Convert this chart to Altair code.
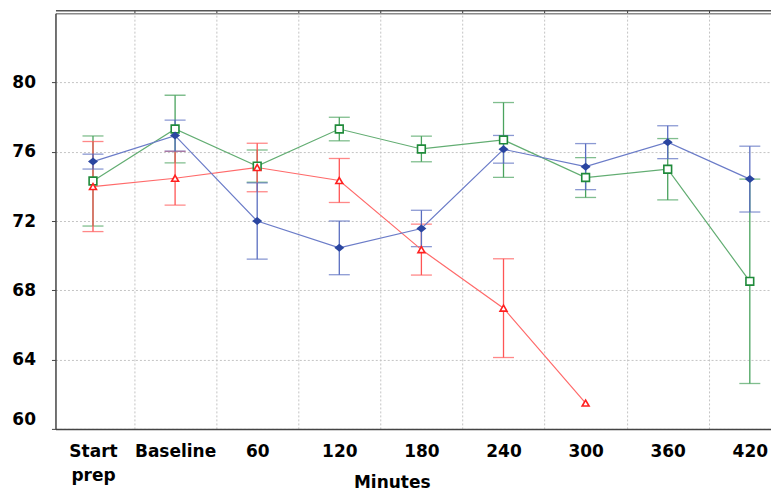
import altair as alt
import pandas as pd

categories = ["Start prep", "Baseline", "60", "120", "180", "240", "300", "360", "420"]

blue_mean = [75.43, 76.93, 72.00, 70.45, 71.57, 76.14, 75.14, 76.55, 74.42]
blue_err = [0.43, 0.90, 2.20, 1.55, 1.05, 0.80, 1.33, 0.95, 1.90]

green_mean = [74.31, 77.31, 75.17, 77.31, 76.16, 76.68, 74.51, 74.99, 68.52]
green_err = [2.60, 1.95, 0.93, 0.68, 0.74, 2.16, 1.15, 1.77, 5.90]

red_mean = [73.99, 74.47, 75.09, 74.34, 70.35, 66.97, 61.49, None, None]
red_err = [2.60, 1.55, 1.40, 1.27, 1.47, 2.85, None, None, None]

y_ticks = [60, 64, 68, 72, 76, 80]
y_domain = [60, 84]


def series_frame(means, errs):
    rows = []
    for i, (m, e) in enumerate(zip(means, errs)):
        if m is None:
            continue
        rows.append({
            "idx": i,
            "mean": m,
            "lo": m - e if e is not None else None,
            "hi": m + e if e is not None else None,
        })
    return pd.DataFrame(rows)


blue_df = series_frame(blue_mean, blue_err)
green_df = series_frame(green_mean, green_err)
red_df = series_frame(red_mean, red_err)

XS = alt.Scale(domain=[-0.457, 8.258], nice=False, zero=False)
YS = alt.Scale(domain=y_domain, nice=False, zero=False)

FONT = "DejaVu Sans"
names = ",".join("'" + c + "'" for c in categories)

label_axis = alt.Axis(
    orient="bottom", values=list(range(len(categories))),
    labelExpr=f"split([{names}][round(datum.value)], ' ')",
    ticks=False, tickSize=0, grid=False, domain=True,
    domainColor="#444444", domainWidth=1.5,
    labelFont=FONT, labelFontSize=17, labelFontWeight="bold", labelColor="black",
    labelPadding=23, labelBaseline="middle", labelLineHeight=24,
    labelFlush=False, labelOverlap=False,
    title="Minutes", titleFont=FONT, titleFontSize=17, titleFontWeight="bold",
    titleColor="black", titleX=336.5, titleY=54, titleBaseline="middle",
)

grid_axis = alt.Axis(
    orient="top", values=[i + 0.5 for i in range(len(categories) - 1)],
    labels=False, ticks=True, tickSize=3, tickColor="#333333",
    grid=True, gridColor="#c4c4c4", gridDash=[2, 2], gridWidth=1,
    domain=True, domainColor="#8a8a8a", domainWidth=1.5, title=None,
)

frame_axis = alt.Axis(
    orient="top", offset=3, values=[0], labels=False, ticks=False, grid=False,
    domain=True, domainColor="#555555", domainWidth=1.5, title=None,
)

y_axis = alt.Axis(
    orient="left", values=y_ticks, grid=True, gridColor="#c4c4c4",
    gridDash=[2, 2], gridWidth=1, tickSize=4, tickColor="#444444",
    domainColor="#444444", domainWidth=1.5,
    labelFont=FONT, labelFontSize=17, labelFontWeight="bold", labelColor="black",
    labelPadding=16, labelFlush=True, title=None,
)


def X(axis=None):
    return alt.X("idx:Q", scale=XS, axis=axis)


def Y(field, axis=None):
    return alt.Y(f"{field}:Q", scale=YS, axis=axis)


def err_layers(df, color, first_axes=None):
    d = df.dropna()
    ax = first_axes or {}
    base = alt.Chart(d)
    rule = base.mark_rule(color=color, strokeWidth=1.3).encode(
        x=X(ax.get("x0")), y=Y("lo", ax.get("y")), y2="hi:Q"
    )
    cap_lo = base.mark_tick(orient="horizontal", size=21, thickness=1.3, color=color).encode(
        x=X(ax.get("x1")), y=Y("lo")
    )
    cap_hi = base.mark_tick(orient="horizontal", size=21, thickness=1.3, color=color).encode(
        x=X(ax.get("x2")), y=Y("hi")
    )
    return [rule, cap_lo, cap_hi]


def line_layer(df, color):
    return alt.Chart(df).mark_line(color=color, strokeWidth=1.2).encode(
        x=X(), y=Y("mean")
    )


layers = []
layers += err_layers(green_df, "#4aa35e",
                     {"x0": label_axis, "x1": grid_axis, "x2": frame_axis, "y": y_axis})
layers += err_layers(red_df, "#ff5555")
layers += err_layers(blue_df, "#5a6ec0")

layers.append(line_layer(green_df, "#62ad72"))
layers.append(line_layer(red_df, "#ff6a6a"))
layers.append(line_layer(blue_df, "#6b7cc8"))

layers.append(alt.Chart(green_df).mark_point(
    shape="square", size=60, filled=True, fill="white", stroke="#1f8a3a",
    strokeWidth=1.6, opacity=1).encode(x=X(), y=Y("mean")))
layers.append(alt.Chart(red_df).mark_point(
    shape="triangle-up", size=48, filled=True, fill="white", stroke="#ff2020",
    strokeWidth=1.6, opacity=1).encode(x=X(), y=Y("mean")))
layers.append(alt.Chart(blue_df).mark_point(
    shape="M -1 0 L 0 -0.8 L 1 0 L 0 0.8 Z", size=100, filled=True,
    color="#2a45a0", opacity=1).encode(x=X(), y=Y("mean")))

chart = alt.layer(*layers).resolve_axis(x="independent", y="independent").properties(
    width=716, height=416,
    autosize=alt.AutoSizeParams(type="none"),
    padding={"left": 47.5, "top": 5, "right": 0, "bottom": 62},
    background="white",
).configure_view(stroke=None)

chart.save("out.html", embed_options={"renderer": "svg", "actions": False})
